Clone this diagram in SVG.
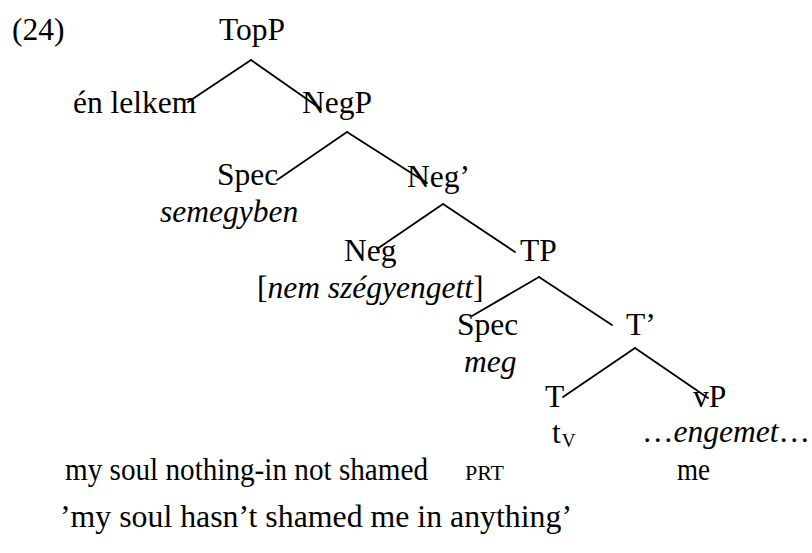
<svg xmlns="http://www.w3.org/2000/svg" width="812" height="553" viewBox="0 0 812 553">
<style>
  .t { font-family: 'Liberation Serif', 'Times New Roman', serif; font-size: 31.5px; fill: #000; }
  .it { font-style: italic; }
  .sm { font-size: 22px; }
  .sub { font-size: 19px; }
  .edge { stroke: #000; stroke-width: 1.8; fill: none; stroke-linecap: round; }
</style>
<rect x="0" y="0" width="812" height="553" fill="#fff"/>
<g id="connectors">
  <line class="edge" x1="251" y1="60" x2="188" y2="102"/>
  <line class="edge" x1="251" y1="60" x2="321" y2="109"/>
  <line class="edge" x1="347" y1="132" x2="277" y2="180"/>
  <line class="edge" x1="347" y1="132" x2="427" y2="183"/>
  <line class="edge" x1="443" y1="204" x2="377" y2="249"/>
  <line class="edge" x1="443" y1="204" x2="515" y2="252"/>
  <line class="edge" x1="539" y1="277" x2="472" y2="316"/>
  <line class="edge" x1="539" y1="277" x2="612" y2="325"/>
  <line class="edge" x1="635" y1="348" x2="563" y2="397"/>
  <line class="edge" x1="635" y1="348" x2="708" y2="398"/>
</g>
<g id="label-24"><text class="t" x="12" y="40">(24)</text></g>
<g id="node-TopP"><text class="t" x="219" y="40">TopP</text></g>
<g id="node-en-lelkem"><text class="t" x="73" y="113">én lelkem</text></g>
<g id="node-NegP"><text class="t" x="302" y="113">NegP</text></g>
<g id="node-Spec1">
  <text class="t" x="217" y="185">Spec</text>
  <text class="t it" x="160" y="222">semegyben</text>
</g>
<g id="node-NegBar"><text class="t" x="407" y="187">Neg’</text></g>
<g id="node-Neg">
  <text class="t" x="344" y="261">Neg</text>
  <text class="t" x="257" y="298">[<tspan class="it">nem szégyengett</tspan>]</text>
</g>
<g id="node-TP"><text class="t" x="520" y="261">TP</text></g>
<g id="node-Spec2">
  <text class="t" x="457" y="335">Spec</text>
  <text class="t it" x="464" y="372">meg</text>
</g>
<g id="node-TBar"><text class="t" x="626" y="335">T’</text></g>
<g id="node-T">
  <text class="t" x="545" y="407">T</text>
  <text class="t" x="552" y="443">t<tspan class="sub" dx="1" dy="4">V</tspan></text>
</g>
<g id="node-vP">
  <text class="t" x="693" y="407">vP</text>
  <text class="t" x="642" y="442">…<tspan class="it">engemet</tspan>…</text>
</g>
<g id="gloss">
  <text class="t" x="65" y="480" textLength="363" lengthAdjust="spacingAndGlyphs">my soul nothing-in not shamed</text>
  <text class="t sm" x="465" y="480">PRT</text>
  <text class="t" x="677" y="480" textLength="33" lengthAdjust="spacingAndGlyphs">me</text>
  <text class="t" x="60" y="527" textLength="512" lengthAdjust="spacingAndGlyphs">’my soul hasn’t shamed me in anything’</text>
</g>
</svg>
